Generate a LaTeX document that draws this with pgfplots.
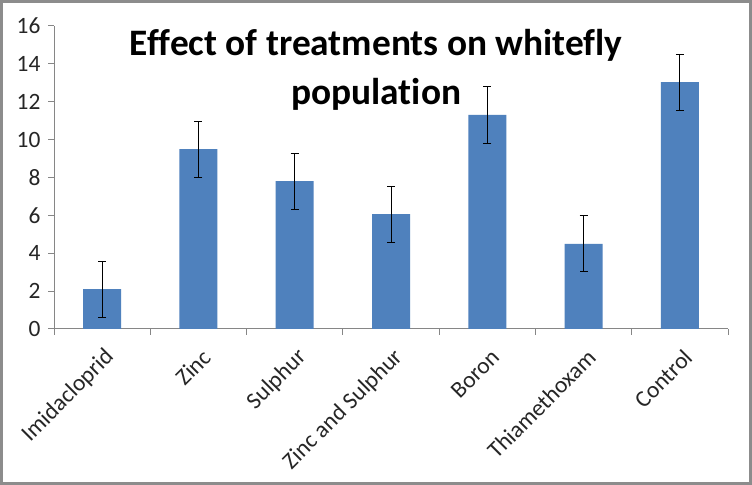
\documentclass[border=0pt]{standalone}
\usepackage{pgfplots}
\pgfplotsset{compat=1.18}
\usepackage{fontspec}
\setmainfont{Carlito}[Ligatures=NoCommon]
\definecolor{barblue}{HTML}{4F81BD}
\definecolor{axgray}{HTML}{868686}
\definecolor{framegray}{HTML}{8C8C8C}
\begin{document}
\begin{tikzpicture}[x=1bp,y=1bp]
\useasboundingbox (0,0) rectangle (752,485);
\fill[white] (0,0) rectangle (752,485);
\draw[framegray, line width=3bp] (1.5,1.5) rectangle (750.5,483.5);
\begin{axis}[
  at={(54bp,156bp)}, anchor=south west,
  width=674bp, height=303bp, scale only axis,
  xmin=-0.5, xmax=6.5, ymin=0, ymax=16,
  ytick={0,2,...,16},
  xtick={0,...,6},
  xticklabels={Imidacloprid,Zinc,Sulphur,Zinc and Sulphur,Boron,Thiamethoxam,Control},
  minor xtick={-0.5,0.5,...,6.5},
  axis x line*=bottom, axis y line*=left,
  axis line style={axgray, line width=1bp},
  tick align=outside,
  major tick length=6bp, minor tick length=6bp,
  every major x tick/.append style={draw=none},
  every minor x tick/.append style={axgray, line width=1bp},
  every major y tick/.append style={axgray, line width=1bp},
  ticklabel style={font=\fontsize{23.5}{27}\selectfont, text=black!85},
  /pgf/number format/assume math mode=true,
  xticklabel style={rotate=45, anchor=east, yshift=-19bp, xshift=-4bp},
  yticklabel style={xshift=-4bp},
  ybar, bar width=38bp,
  clip=false,
]
\addplot[fill=barblue, draw=none,
  error bars/.cd, y dir=both, y explicit,
  error bar style={black, line width=1bp},
  error mark options={rotate=90, mark size=4bp, black, line width=1bp}]
  coordinates {
  (0,2.11) +- (0,1.48)
  (1,9.50) +- (0,1.48)
  (2,7.81) +- (0,1.48)
  (3,6.07) +- (0,1.48)
  (4,11.30) +- (0,1.48)
  (5,4.49) +- (0,1.48)
  (6,13.04) +- (0,1.48)
  };
\node[font=\fontsize{37.5}{49}\selectfont\bfseries, align=center] at (rel axis cs:0.478,0.856) {Effect of treatments on whitefly\\population};
\end{axis}
\end{tikzpicture}
\end{document}
